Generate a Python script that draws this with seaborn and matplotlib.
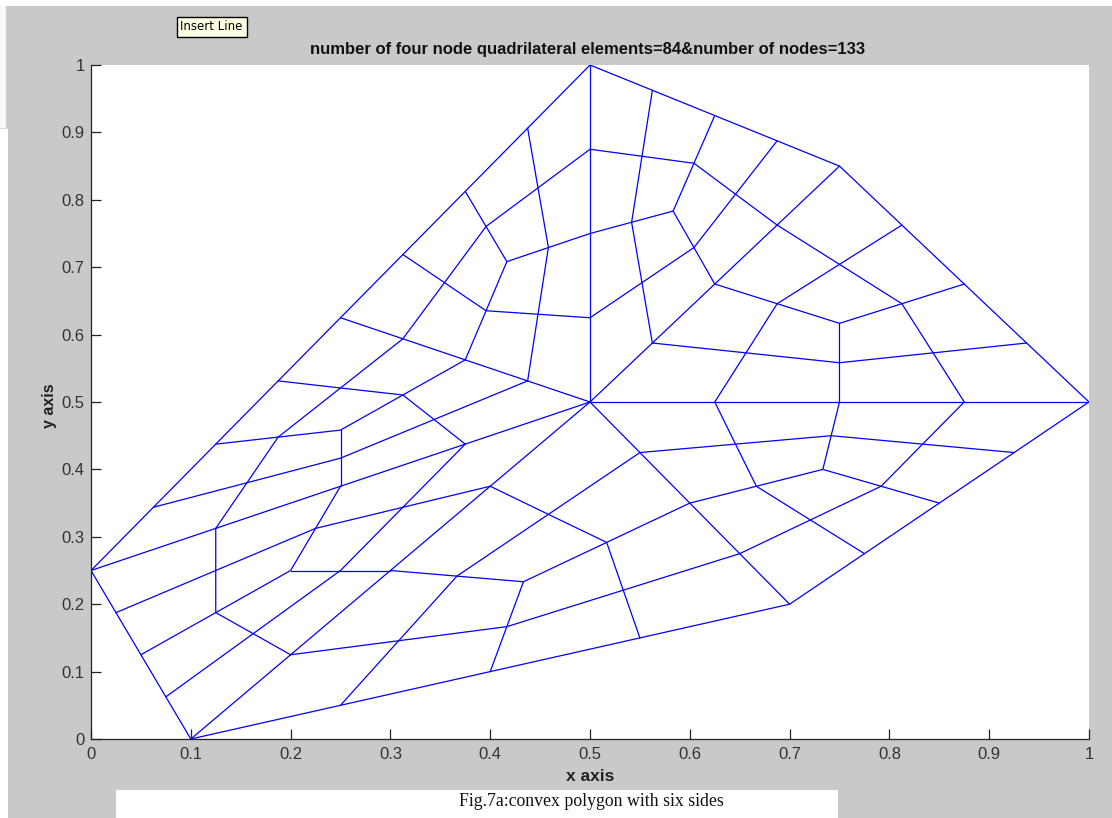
import matplotlib
matplotlib.use('Agg')
import matplotlib.pyplot as plt
from matplotlib.patches import Rectangle
import seaborn as sns
import pandas as pd

W, H = 1112, 818

# outline of the polygon and spokes from the centre node
outline_x = [0, 0.1, 0.7, 1, 0.75, 0.5, 0]
outline_y = [0.25, 0, 0.2, 0.5, 0.85, 1, 0.25]
spoke_x = [[0.5, 1], [0.5, 0.75], [0.5, 0.5], [0.5, 0.25], [0.5, 0], [0.5, 0.1], [0.5, 0.7]]
spoke_y = [[0.5, 0.5], [0.5, 0.85], [0.5, 1], [0.5, 0.625], [0.5, 0.25], [0.5, 0], [0.5, 0.2]]

# mesh lines, one block per coarse triangle
t1_x = [[0.75, 0.75, 0.875], [0.75, 0.625],
        [0.625, 0.6563, 0.6875, 0.75, 0.8125],
        [0.5625, 0.6563, 0.75, 0.8438, 0.9375],
        [0.875, 0.8438, 0.8125, 0.75, 0.6875]]
t1_y = [[0.5, 0.6167, 0.675], [0.6167, 0.675],
        [0.5, 0.5729, 0.6458, 0.7042, 0.7625],
        [0.5875, 0.5729, 0.5583, 0.5729, 0.5875],
        [0.5, 0.5729, 0.6458, 0.7042, 0.7625]]

t2_x = [[0.625, 0.5833, 0.625], [0.5833, 0.5],
        [0.5625, 0.5521, 0.5417, 0.5521, 0.5625],
        [0.5, 0.5521, 0.6042, 0.6458, 0.6875],
        [0.6875, 0.6458, 0.6042, 0.5521, 0.5]]
t2_y = [[0.675, 0.7833, 0.925], [0.7833, 0.75],
        [0.5875, 0.6771, 0.7667, 0.8646, 0.9625],
        [0.625, 0.6771, 0.7292, 0.8083, 0.8875],
        [0.7625, 0.8083, 0.8542, 0.8646, 0.875]]

t3_x = [[0.5, 0.4167, 0.375], [0.4167, 0.375],
        [0.5, 0.4479, 0.3958, 0.3542, 0.3125],
        [0.4375, 0.4479, 0.4583, 0.4479, 0.4375],
        [0.5, 0.4479, 0.3958, 0.3542, 0.3125]]
t3_y = [[0.75, 0.7083, 0.8125], [0.7083, 0.5625],
        [0.625, 0.6302, 0.6354, 0.6771, 0.7188],
        [0.5313, 0.6302, 0.7292, 0.8177, 0.9063],
        [0.875, 0.8177, 0.7604, 0.6771, 0.5938]]

t4_x = [[0.375, 0.25, 0.125], [0.25, 0.25],
        [0.4375, 0.3438, 0.25, 0.1563, 0.0625],
        [0.375, 0.3438, 0.3125, 0.25, 0.1875],
        [0.3125, 0.25, 0.1875, 0.1563, 0.125]]
t4_y = [[0.5625, 0.4583, 0.4375], [0.4583, 0.375],
        [0.5313, 0.474, 0.4167, 0.3802, 0.3438],
        [0.4375, 0.474, 0.5104, 0.5208, 0.5313],
        [0.5938, 0.5208, 0.4479, 0.3802, 0.3125]]

t5_x = [[0.25, 0.2, 0.05], [0.2, 0.3],
        [0.375, 0.3125, 0.25, 0.1625, 0.075],
        [0.4, 0.3125, 0.225, 0.125, 0.025],
        [0.125, 0.125, 0.125, 0.1625, 0.2]]
t5_y = [[0.375, 0.25, 0.125], [0.25, 0.25],
        [0.4375, 0.3438, 0.25, 0.1563, 0.0625],
        [0.375, 0.3438, 0.3125, 0.25, 0.1875],
        [0.3125, 0.25, 0.1875, 0.1563, 0.125]]

t6_x = [[0.3, 0.4333, 0.4], [0.4333, 0.6],
        [0.4, 0.4583, 0.5167, 0.5333, 0.55],
        [0.55, 0.4583, 0.3667, 0.3083, 0.25],
        [0.2, 0.3083, 0.4167, 0.5333, 0.65]]
t6_y = [[0.25, 0.2333, 0.1], [0.2333, 0.35],
        [0.375, 0.3333, 0.2917, 0.2208, 0.15],
        [0.425, 0.3333, 0.2417, 0.1458, 0.05],
        [0.125, 0.1458, 0.1667, 0.2208, 0.275]]

t7_x = [[0.6, 0.7333, 0.85], [0.7333, 0.75],
        [0.55, 0.6458, 0.7417, 0.8333, 0.925],
        [0.625, 0.6458, 0.6667, 0.7208, 0.775],
        [0.65, 0.7208, 0.7917, 0.8333, 0.875]]
t7_y = [[0.35, 0.4, 0.35], [0.4, 0.5],
        [0.425, 0.4375, 0.45, 0.4375, 0.425],
        [0.5, 0.4375, 0.375, 0.325, 0.275],
        [0.275, 0.325, 0.375, 0.4375, 0.5]]

tick_values = [0, 0.1, 0.2, 0.3, 0.4, 0.5, 0.6, 0.7, 0.8, 0.9, 1]
tick_labels = ['0', '0.1', '0.2', '0.3', '0.4', '0.5', '0.6', '0.7', '0.8', '0.9', '1']

title_text = 'number of four node quadrilateral elements=84&number of nodes=133'
caption_text = 'Fig.7a:convex polygon with six sides'

# long table for seaborn, one unit per polyline
all_x = [outline_x] + spoke_x + t1_x + t2_x + t3_x + t4_x + t5_x + t6_x + t7_x
all_y = [outline_y] + spoke_y + t1_y + t2_y + t3_y + t4_y + t5_y + t6_y + t7_y
rows = []
for n, (xs, ys) in enumerate(zip(all_x, all_y)):
    for x, y in zip(xs, ys):
        rows.append({'line': n, 'x': x, 'y': y})
mesh = pd.DataFrame(rows)

sns.set_theme(style='white')
plt.rcParams['font.family'] = ['Liberation Sans', 'DejaVu Sans']

GREY = '#c9c9c9'
fig = plt.figure(figsize=(W / 100, H / 100), dpi=100, facecolor='white')


def box(x0, y0, x1, y1, **kw):
    # rectangle given in pixels from the top left corner
    r = Rectangle((x0 / W, 1 - y1 / H), (x1 - x0) / W, (y1 - y0) / H,
                  transform=fig.transFigure, **kw)
    fig.add_artist(r)


# window background
box(6, 6, W, 128, facecolor=GREY, edgecolor='none', zorder=-5)
box(8, 128, W, H, facecolor=GREY, edgecolor='none', zorder=-5)
box(0, 6, 6, 128, facecolor='#f7f7f7', edgecolor='none', zorder=-5)
box(0, 128, 8, 129, facecolor='#d8d8d8', edgecolor='none', zorder=-5)
box(116, 790, 838, H, facecolor='white', edgecolor='none', zorder=5)
box(176.5, 16.5, 246.5, 36.5, facecolor='#ffffe6', edgecolor='black', linewidth=1, zorder=5)

ax = fig.add_axes([91 / W, 1 - 739 / H, 998 / W, 674 / H])
ax.set_facecolor('white')

sns.lineplot(data=mesh, x='x', y='y', units='line', estimator=None, sort=False,
             color='#0000ff', linewidth=0.9, legend=False, ax=ax)

ax.set_xlim(0, 1)
ax.set_ylim(0, 1)
ax.set_xticks(tick_values)
ax.set_xticklabels(tick_labels)
ax.set_yticks(tick_values)
ax.set_yticklabels(tick_labels)
ax.tick_params(axis='x', direction='in', length=7, width=0.9, color='#222222',
               labelsize=12, labelcolor='#333333', bottom=True, pad=6)
ax.tick_params(axis='y', direction='in', length=7, width=0.9, color='#222222',
               labelsize=12, labelcolor='#333333', left=True, pad=4.5)
sns.despine(ax=ax)
for side in ['left', 'bottom']:
    ax.spines[side].set_color('#222222')
    ax.spines[side].set_linewidth(0.9)

ax.set_xlabel('x axis', fontsize=12.5, fontweight='bold', color='#222222', labelpad=5)
ax.set_ylabel('y axis', fontsize=11.5, fontweight='bold', color='#222222', labelpad=3.5, y=0.495)
ax.set_title(title_text, fontsize=12, fontweight='bold', color='#111111', pad=8, x=0.4975)

fig.text(211.5 / W, 1 - 26.5 / H, 'Insert Line', fontsize=8.5, color='black',
         ha='center', va='center', zorder=6, family=['DejaVu Sans'])
fig.text(591 / W, 1 - 801 / H, caption_text, fontsize=12.8, color='#111111', ha='center',
         va='center', zorder=6, family=['Liberation Serif'])

fig.savefig('out.png', dpi=100, facecolor='white')
